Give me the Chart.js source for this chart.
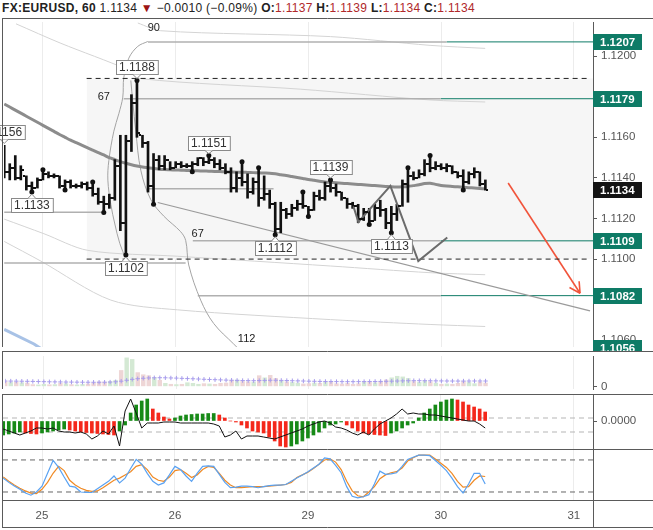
<!DOCTYPE html>
<html>
<head>
<meta charset="utf-8">
<script src="https://cdn.jsdelivr.net/npm/chart.js@4.4.1/dist/chart.umd.min.js"></script>
<style>
  html, body { margin: 0; padding: 0; background: #fff; }
  body { width: 653px; height: 530px; position: relative; overflow: hidden; font-family: "Liberation Sans", Arial, sans-serif; }
  #head { position: absolute; left: 2px; top: 0; height: 18px; line-height: 17px; font-size: 12px; letter-spacing: 0.3px; color: #222; white-space: nowrap; }
  .r { color: #b0282a; }
  .tri { color: #9c1414; font-size: 12px; }
  canvas { position: absolute; left: 0; }
</style>
</head>
<body>
<div id="head"><b>FX:EURUSD, 60</b> 1.1134 <span class="tri">&#9660;</span> &minus;0.0010 (&minus;0.09%) <b>O:</b><span class="r">1.1137</span> <b>H:</b><span class="r">1.1139</span> <b>L:</b><span class="r">1.1134</span> <b>C:</b><span class="r">1.1134</span></div>
<canvas id="main" width="653" height="333" style="top:18px"></canvas>
<canvas id="vol" width="653" height="43" style="top:351px"></canvas>
<canvas id="macd" width="653" height="55" style="top:394px"></canvas>
<canvas id="stoch" width="653" height="80" style="top:449px"></canvas>
<script>
// hourly bars, index 0 = first bar on screen
const dayTicks = [7, 31, 55, 79, 103];
const dayLabels = ['25', '26', '29', '30', '31'];
const priceTicks = [1.1060, 1.1080, 1.1100, 1.1120, 1.1140, 1.1160, 1.1180, 1.1200];

const opens = [
  1.1152, 1.1143, 1.1145, 1.1140, 1.1141, 1.1136, 1.1135, 1.1139, 1.1142, 1.1141,
  1.1141, 1.1136, 1.1138, 1.1136, 1.1136, 1.1137, 1.1135, 1.1132, 1.1128, 1.1127,
  1.1130, 1.1146, 1.1118, 1.1158, 1.1177, 1.1161, 1.1157, 1.1136, 1.1149, 1.1146,
  1.1149, 1.1145, 1.1147, 1.1146, 1.1146, 1.1147, 1.1150, 1.1148, 1.1149, 1.1147,
  1.1145, 1.1143, 1.1135, 1.1140, 1.1138, 1.1133, 1.1138, 1.1130, 1.1132, 1.1127,
  1.1115, 1.1124, 1.1122, 1.1125, 1.1127, 1.1126, 1.1124, 1.1131, 1.1130, 1.1136,
  1.1135, 1.1133, 1.1130, 1.1127, 1.1126, 1.1120, 1.1123, 1.1119, 1.1125, 1.1124,
  1.1118, 1.1122, 1.1126, 1.1137, 1.1141, 1.1140, 1.1142, 1.1147, 1.1145, 1.1146,
  1.1145, 1.1146, 1.1143, 1.1141, 1.1138, 1.1142, 1.1143, 1.1137
];
const highs = [
  1.1156, 1.1147, 1.1151, 1.1146, 1.1141, 1.1138, 1.1140, 1.1144, 1.1143, 1.1142,
  1.1141, 1.1139, 1.1139, 1.1137, 1.1138, 1.1138, 1.1138, 1.1135, 1.1131, 1.1132,
  1.1149, 1.1161, 1.1161, 1.1181, 1.1188, 1.1161, 1.1158, 1.1152, 1.1151, 1.1151,
  1.1148, 1.1148, 1.1148, 1.1147, 1.1148, 1.1150, 1.1150, 1.1151, 1.1150, 1.1149,
  1.1147, 1.1145, 1.1143, 1.1148, 1.1142, 1.1140, 1.1145, 1.1141, 1.1134, 1.1128,
  1.1128, 1.1125, 1.1127, 1.1129, 1.1133, 1.1126, 1.1133, 1.1134, 1.1138, 1.1139,
  1.1137, 1.1133, 1.1130, 1.1128, 1.1127, 1.1125, 1.1125, 1.1127, 1.1129, 1.1125,
  1.1126, 1.1127, 1.1139, 1.1145, 1.1143, 1.1144, 1.1149, 1.1151, 1.1148, 1.1147,
  1.1147, 1.1146, 1.1143, 1.1144, 1.1143, 1.1145, 1.1143, 1.1139
];
const lows = [
  1.1140, 1.1139, 1.1139, 1.1139, 1.1134, 1.1133, 1.1135, 1.1139, 1.1140, 1.1140,
  1.1135, 1.1134, 1.1135, 1.1135, 1.1135, 1.1134, 1.1131, 1.1127, 1.1123, 1.1125,
  1.1129, 1.1114, 1.1102, 1.1153, 1.1160, 1.1155, 1.1133, 1.1127, 1.1144, 1.1144,
  1.1144, 1.1145, 1.1145, 1.1145, 1.1143, 1.1146, 1.1146, 1.1147, 1.1145, 1.1144,
  1.1142, 1.1133, 1.1133, 1.1136, 1.1130, 1.1132, 1.1126, 1.1129, 1.1125, 1.1112,
  1.1113, 1.1120, 1.1121, 1.1124, 1.1125, 1.1121, 1.1124, 1.1129, 1.1129, 1.1133,
  1.1131, 1.1129, 1.1125, 1.1125, 1.1118, 1.1119, 1.1117, 1.1119, 1.1121, 1.1115,
  1.1113, 1.1119, 1.1126, 1.1128, 1.1139, 1.1140, 1.1141, 1.1143, 1.1144, 1.1144,
  1.1143, 1.1142, 1.1140, 1.1134, 1.1137, 1.1140, 1.1136, 1.1134
];
const closes = [
  1.1143, 1.1145, 1.1140, 1.1144, 1.1136, 1.1135, 1.1139, 1.1142, 1.1141, 1.1141,
  1.1136, 1.1138, 1.1136, 1.1136, 1.1137, 1.1135, 1.1132, 1.1128, 1.1127, 1.1130,
  1.1146, 1.1118, 1.1158, 1.1177, 1.1162, 1.1157, 1.1136, 1.1149, 1.1146, 1.1149,
  1.1145, 1.1147, 1.1146, 1.1146, 1.1147, 1.1150, 1.1148, 1.1149, 1.1147, 1.1145,
  1.1143, 1.1135, 1.1140, 1.1138, 1.1133, 1.1138, 1.1130, 1.1132, 1.1127, 1.1115,
  1.1124, 1.1122, 1.1125, 1.1127, 1.1126, 1.1124, 1.1131, 1.1130, 1.1136, 1.1135,
  1.1133, 1.1130, 1.1127, 1.1126, 1.1120, 1.1123, 1.1119, 1.1125, 1.1124, 1.1118,
  1.1122, 1.1126, 1.1137, 1.1141, 1.1140, 1.1142, 1.1147, 1.1145, 1.1146, 1.1145,
  1.1146, 1.1143, 1.1141, 1.1138, 1.1142, 1.1143, 1.1137, 1.1134
];
const movingAvg = [
  1.11764, 1.11749, 1.11734, 1.11719, 1.11704, 1.11689, 1.11674, 1.11659, 1.11644, 1.11629,
  1.11614, 1.11600, 1.11586, 1.11574, 1.11562, 1.11549, 1.11537, 1.11525, 1.11513, 1.11500,
  1.11490, 1.11480, 1.11472, 1.11465, 1.11459, 1.11454, 1.11450, 1.11446, 1.11443, 1.11441,
  1.11440, 1.11439, 1.11438, 1.11437, 1.11436, 1.11435, 1.11434, 1.11433, 1.11432, 1.11431,
  1.11430, 1.11429, 1.11428, 1.11428, 1.11427, 1.11426, 1.11425, 1.11424, 1.11423, 1.11420,
  1.11416, 1.11412, 1.11407, 1.11402, 1.11397, 1.11392, 1.11388, 1.11384, 1.11380, 1.11378,
  1.11376, 1.11374, 1.11372, 1.11370, 1.11368, 1.11366, 1.11364, 1.11362, 1.11360, 1.11358,
  1.11356, 1.11355, 1.11356, 1.11358, 1.11362, 1.11366, 1.11372, 1.11374, 1.11368, 1.11363,
  1.11360, 1.11358, 1.11356, 1.11354, 1.11352, 1.11350, 1.11348, 1.11346
];
const volumes = [
  175, 150, 160, 140, 130, 80, 70, 90, 75, 80,
  120, 110, 80, 70, 90, 100, 130, 170, 160, 180,
  220, 540, 950, 900, 470, 400, 370, 300, 220, 120,
  90, 80, 90, 140, 120, 90, 110, 100, 90, 120,
  130, 220, 230, 180, 170, 160, 370, 300, 380, 280,
  200, 170, 150, 130, 100, 110, 130, 120, 160, 150,
  110, 100, 120, 90, 110, 160, 150, 140, 170, 230,
  300, 350, 330, 280, 180, 150, 200, 170, 130, 90,
  100, 90, 120, 180, 150, 110, 160, 130
];
const volumeAvg = [
  185, 183, 181, 178, 175, 172, 168, 164, 160, 157,
  155, 152, 150, 148, 146, 145, 144, 144, 146, 150,
  160, 180, 210, 240, 260, 275, 285, 290, 292, 290,
  285, 280, 272, 265, 258, 250, 242, 235, 228, 222,
  215, 210, 205, 200, 198, 196, 200, 205, 210, 210,
  205, 200, 195, 190, 185, 180, 176, 172, 170, 168,
  166, 165, 164, 164, 165, 166, 168, 170, 172, 175,
  180, 185, 190, 194, 196, 196, 195, 193, 190, 188,
  186, 185, 184, 184, 185, 186, 186, 185
];
// MACD in units of 1e-5
const macdHist = [
  -14, -13, -12, -11, -12, -12.5, -13, -12, -11, -10,
  -9, -8, -9, -10, -11, -11.5, -12, -12.5, -13, -13.5,
  -14, -10, -4, 8, 16, 20, 22, 12, 8, 4,
  2, 3, 5, 6, 6.5, 7, 7, 7.5, 7.5, 6,
  3, 0, -1, -4, -7, -10, -11, -12, -16, -20,
  -25, -26, -25, -23, -20, -17, -14, -11, -7, -4,
  -3, -1, -4, -7, -10, -12, -13, -13.5, -14, -14.5,
  -12, -10, -7, -4, -2, 3, 8, 12, 16, 19,
  21, 22, 21, 19, 16, 14, 12, 9
];
const macdLine = [
  -8, -10, -12, -14, -12, -10, -7, -7, -8, -7,
  -10, -11, -11, -12, -11, -13, -18, -15, -10, -13,
  -5, -25, 10, 22, 8, -7, -2, -2, -2, -1,
  -1, -1, -2, -2, -2, -2, -2, -2, -3, -5,
  -16, -14, -10, -18, -15, -15, -15, -16, -17, -18,
  -16, -14, -12, -10, -8, -5, -3, -1, 0, -2,
  -6, -7, -9, -12, -14, -11, -14, -8, -3, 0,
  3, 7, 12, 7, 8, 7, 7, 6, 6, 5,
  4, 3, 2, 1, 0, 0, -3, -7
];
const macdLevels = [3, -11];
const stochK = [
  46, 38, 31, 25, 18, 14, 20, 31, 55, 79,
  66, 48, 31, 29, 20, 19, 19, 26, 33, 40,
  50, 37, 46, 64, 81, 72, 55, 40, 33, 37,
  52, 68, 62, 50, 40, 55, 68, 69, 68, 53,
  38, 28, 29, 31, 31, 30, 28, 30, 32, 33,
  33, 34, 40, 46, 52, 58, 65, 72, 84, 82,
  70, 56, 30, 12, 9, 11, 15, 35, 59, 53,
  54, 56, 68, 81, 85, 89, 89, 88, 79, 70,
  60, 46, 30, 18, 35, 55, 55, 35
];
const stochD = [
  48, 40, 33, 27, 22, 18, 17, 25, 38, 55,
  68, 60, 42, 33, 27, 23, 21, 22, 28, 35,
  42, 46, 52, 58, 68, 71, 62, 48, 42, 40,
  48, 60, 62, 55, 47, 52, 62, 68, 66, 55,
  42, 33, 28, 28, 29, 30, 30, 30, 31, 32,
  33, 34, 38, 47, 52, 57, 64, 72, 80, 82,
  76, 62, 40, 22, 13, 11, 20, 30, 45, 52,
  56, 58, 65, 78, 84, 89, 89, 89, 82, 74,
  66, 55, 40, 29, 30, 42, 50, 49
];
const stochLevels = [80, 20];

// drawings on the price pane, as [bar index, price]
const pivotHighs = [7, 16, 24, 37, 43, 46, 54, 59, 73, 77];
const pivotLows = [5, 11, 18, 22, 27, 34, 49, 55, 66, 70, 83];
const pivotTags = [[0, 'H'], [5, 'L'], [22, 'L'], [24, 'H'], [37, 'H'], [49, 'L'], [59, 'H'], [70, 'L']];
const rangeBox = { from: 14.9, to: 105.4, top: 1.1189, bottom: 1.1100 };
const greyLevels = [
  [1.1207, 26.0, 80.0], [1.1179, 21.6, 78.9], [1.11346, 26.0, 48.7], [1.11231, 0, 18],
  [1.10981, 0, 32.8], [1.1109, 34.1, 78.9], [1.1082, 35.0, 78.9]
];
const tealLevels = [[1.1207, 80.0], [1.1179, 78.9], [1.1109, 78.9], [1.1082, 78.9]];
const axisTags = [1.1207, 1.1179, 1.1109, 1.1082, 1.1056];
const bandUpper1 = [[24.15, 1.12163], [28.3, 1.12125], [59.0, 1.12096], [77.0, 1.12053], [86.97, 1.12038]];
const bandUpper2 = [[2.13, 1.12159], [10.25, 1.12063], [22.35, 1.11933], [24.7, 1.11889], [53.6, 1.11837], [77.0, 1.11784], [86.97, 1.11774]];
const bandLower1 = [[0, 1.11197], [7.18, 1.11125], [15.13, 1.11043], [31.37, 1.11014], [59.0, 1.10966], [77.0, 1.10933], [86.97, 1.10923]];
const bandLower2 = [[0, 1.11087], [6.64, 1.10990], [19.28, 1.10798], [31.37, 1.10750], [59.0, 1.10702], [77.0, 1.10678], [86.97, 1.10668]];
const blueCurve = [[0, 1.10654], [5.38, 1.10582], [7.55, 1.10543]];
const arcA = [[25.96, 1.12072], [24.15, 1.12048], [22.53, 1.11990], [21.62, 1.11894], [21.44, 1.11798], [20.72, 1.11716],
  [19.82, 1.11630], [18.92, 1.11486], [18.74, 1.11389], [19.28, 1.11269], [20.0, 1.11173], [20.9, 1.11077], [21.99, 1.11000]];
const arcB = [[22.89, 1.11880], [23.25, 1.11774], [23.79, 1.11630], [24.69, 1.11438], [26.5, 1.11293], [28.84, 1.11212],
  [31.9, 1.11135], [32.82, 1.11091], [33.36, 1.10971], [35.52, 1.10798], [37.87, 1.10683], [41.48, 1.10582], [42.74, 1.10548]];
const trendLine = [[27.76, 1.11279], [105.92, 1.10745]];
const zigzag = [[63.14, 1.11260], [64.04, 1.11183], [69.82, 1.11361], [74.87, 1.10990], [80.11, 1.11106]];
const arrowLine = [[91.12, 1.11375], [104.12, 1.10832]];
const notes = [['90', 27.04, 1.12137], ['67', 18.01, 1.11798], ['67', 34.98, 1.11125], ['112', 43.83, 1.10608]];

const X_MIN = -0.04, X_MAX = 106.46;
const FONT = 'Liberation Sans';
Chart.defaults.font.family = FONT;
Chart.defaults.font.size = 11.5;
Chart.defaults.color = '#555';

const toXY = arr => arr.map(([x, y]) => ({ x, y }));
const seg = (x0, x1, v) => [{ x: x0, y: v }, { x: x1, y: v }];

function line(data, color, width, extra) {
  return Object.assign({
    type: 'line', data, borderColor: color, borderWidth: width,
    pointRadius: 0, fill: false, tension: 0, order: 10
  }, extra || {});
}

function xAxis(showLabels) {
  return {
    type: 'linear', min: X_MIN, max: X_MAX, offset: false,
    afterBuildTicks: s => { s.ticks = dayTicks.map(v => ({ value: v })); },
    ticks: {
      display: showLabels, autoSkip: false, maxRotation: 0, padding: 9,
      callback: v => dayLabels[dayTicks.indexOf(v)] || ''
    },
    grid: { color: '#ececec', drawTicks: false, offset: false },
    border: { display: showLabels, color: '#5a5a5a' },
    afterFit: s => { s.height = showLabels ? 29 : 0; s.paddingLeft = 0; s.paddingRight = 0; }
  };
}

function yAxis(min, max, ticks, fmt) {
  return {
    position: 'right', min, max,
    afterBuildTicks: s => { s.ticks = ticks.map(v => ({ value: v })); },
    ticks: { callback: fmt, padding: 4 },
    grid: { drawOnChartArea: false, drawTicks: true, tickLength: 4, color: '#5a5a5a' },
    border: { color: '#5a5a5a' },
    afterFit: s => { s.width = 60; s.paddingTop = 0; s.paddingBottom = 0; }
  };
}

const frame = {
  id: 'frame',
  afterDraw(chart, args, opts) {
    const { ctx, chartArea: a, width, height } = chart;
    ctx.save();
    ctx.strokeStyle = '#5a5a5a';
    ctx.lineWidth = 1;
    ctx.beginPath();
    ctx.moveTo(2, 0.5); ctx.lineTo(width, 0.5);
    ctx.moveTo(2.5, 0); ctx.lineTo(2.5, opts.last ? height - 1 : a.bottom);
    if (opts.last) {
      ctx.moveTo(2, a.bottom + 0.5); ctx.lineTo(width, a.bottom + 0.5);
      ctx.moveTo(2, height - 1.5); ctx.lineTo(width, height - 1.5);
      ctx.moveTo(a.right + 0.5, a.bottom); ctx.lineTo(a.right + 0.5, height - 1);
    }
    ctx.stroke();
    ctx.restore();
  }
};

function baseOptions(x, y, last) {
  return {
    responsive: false, animation: false, events: [],
    layout: { padding: { left: 3, right: 0, top: 0, bottom: 0 } },
    scales: { x, y },
    plugins: { legend: { display: false }, tooltip: { enabled: false }, frame: { last } }
  };
}

// open / close ticks of the OHLC bars
const ohlcTicks = {
  id: 'ohlcTicks',
  afterDatasetsDraw(chart) {
    const { ctx, chartArea: a } = chart;
    const xs = chart.scales.x, ys = chart.scales.y;
    ctx.save();
    ctx.beginPath(); ctx.rect(a.left, a.top, a.width, a.height); ctx.clip();
    ctx.fillStyle = '#111';
    opens.forEach((o, i) => {
      const px = Math.round(xs.getPixelForValue(i));
      ctx.fillRect(px - 3, Math.round(ys.getPixelForValue(o)) - 1, 2, 2);
      ctx.fillRect(px + 1, Math.round(ys.getPixelForValue(closes[i])) - 1, 2, 2);
    });
    ctx.restore();
  }
};

const annotations = {
  id: 'annotations',
  afterDatasetsDraw(chart) {
    const { ctx, chartArea: a } = chart;
    const xs = chart.scales.x, ys = chart.scales.y;
    const P = (i, p) => ({ x: xs.getPixelForValue(i), y: ys.getPixelForValue(p) });
    ctx.save();

    // arrow head
    const s = P(...arrowLine[0]), e = P(...arrowLine[1]);
    const ang = Math.atan2(e.y - s.y, e.x - s.x);
    ctx.strokeStyle = '#f1543b'; ctx.lineWidth = 1.6;
    ctx.beginPath();
    [-0.5, 0.5].forEach(d => {
      ctx.moveTo(e.x, e.y);
      ctx.lineTo(e.x - 12 * Math.cos(ang + d), e.y - 12 * Math.sin(ang + d));
    });
    ctx.stroke();

    // small text notes
    ctx.fillStyle = '#222'; ctx.font = '11px ' + FONT;
    ctx.textAlign = 'center'; ctx.textBaseline = 'middle';
    notes.forEach(([t, i, p]) => { const q = P(i, p); ctx.fillText(t, q.x, q.y); });

    // pivot price tags
    ctx.font = '12px ' + FONT;
    pivotTags.forEach(([i, side]) => {
      const v = side === 'H' ? highs[i] : lows[i];
      const q = P(i, v);
      const txt = v.toFixed(4);
      const w = ctx.measureText(txt).width + 6, h = 14;
      const top = side === 'H' ? q.y - 6 - h : q.y + 6;
      const bx = Math.round(q.x - w / 2) + 0.5, by = Math.round(top) + 0.5;
      ctx.fillStyle = '#fff'; ctx.strokeStyle = '#8a8a8a'; ctx.lineWidth = 1;
      ctx.fillRect(bx, by, w, h); ctx.strokeRect(bx, by, w, h);
      ctx.beginPath();
      if (side === 'H') { ctx.moveTo(q.x - 4, by + h); ctx.lineTo(q.x, q.y - 2); ctx.lineTo(q.x + 4, by + h); }
      else { ctx.moveTo(q.x - 4, by); ctx.lineTo(q.x, q.y + 2); ctx.lineTo(q.x + 4, by); }
      ctx.fill(); ctx.stroke();
      ctx.fillStyle = '#333';
      ctx.fillText(txt, q.x, by + h / 2 + 0.5);
    });

    // price tags on the right axis
    const tag = (price, bg) => {
      const y = Math.round(ys.getPixelForValue(price));
      ctx.fillStyle = bg; ctx.fillRect(a.right, y - 8, 49, 16);
      ctx.fillStyle = '#fff'; ctx.font = 'bold 11.5px ' + FONT;
      ctx.textAlign = 'left'; ctx.textBaseline = 'middle';
      ctx.fillText(price.toFixed(4), a.right + 7, y + 0.5);
    };
    axisTags.forEach(p => tag(p, '#0e7b66'));
    tag(closes[closes.length - 1], '#131313');
    ctx.restore();
  }
};

// ---------- price pane ----------
const lightGrey = '#d4d4d4', midGrey = '#b0b0b0';
const mainDatasets = [
  line(seg(rangeBox.from, X_MAX, rangeBox.top), 'rgba(0,0,0,0)', 0,
    { fill: { value: rangeBox.bottom }, backgroundColor: '#f6f6f6', order: 30 }),
  line(toXY(bandUpper1), lightGrey, 1, { tension: 0.3, order: 20 }),
  line(toXY(bandUpper2), lightGrey, 1, { tension: 0.3, order: 20 }),
  line(toXY(bandLower1), lightGrey, 1, { tension: 0.3, order: 20 }),
  line(toXY(bandLower2), lightGrey, 1, { tension: 0.3, order: 20 }),
  line(toXY(blueCurve), '#a8c2e6', 3, { order: 20 }),
  ...greyLevels.map(([p, a, b]) => line(seg(a, b, p), midGrey, 1.5, { order: 15 })),
  ...tealLevels.map(([p, a]) => line(seg(a, X_MAX, p), '#0e7b66', 1, { order: 15 })),
  line(toXY(arcA), '#a4a4a4', 1, { tension: 0.35, order: 14 }),
  line(toXY(arcB), '#a4a4a4', 1, { tension: 0.35, order: 14 }),
  line(toXY(trendLine), '#9a9a9a', 1.2, { order: 14 }),
  line(seg(rangeBox.from, rangeBox.to, rangeBox.top), '#222', 1, { borderDash: [5, 4], order: 12 }),
  line(seg(rangeBox.from, rangeBox.to, rangeBox.bottom), '#222', 1, { borderDash: [5, 4], order: 12 }),
  line(toXY(arrowLine), '#f1543b', 1.6, { order: 12 }),
  line(movingAvg.map((v, i) => ({ x: i, y: v })), '#8c8c8c', 3, { tension: 0.3, order: 6 }),
  {
    type: 'bar', order: 4, grouped: false, barThickness: 2, backgroundColor: '#111',
    data: lows.map((l, i) => ({ x: i, y: [l, highs[i]] }))
  },
  line(toXY(zigzag), '#6b6b6b', 2, { order: 3 }),
  line([...pivotHighs.map(i => ({ x: i, y: highs[i] })), ...pivotLows.map(i => ({ x: i, y: lows[i] }))],
    '#111', 0, { showLine: false, pointRadius: 2.5, pointBackgroundColor: '#111', pointBorderWidth: 0, order: 1 })
];
new Chart(document.getElementById('main'), {
  type: 'line',
  data: { datasets: mainDatasets },
  options: baseOptions(xAxis(false), yAxis(1.10567, 1.12168, priceTicks, v => v.toFixed(4)), false),
  plugins: [frame, ohlcTicks, annotations]
});

// ---------- volume pane ----------
new Chart(document.getElementById('vol'), {
  type: 'bar',
  data: {
    datasets: [
      {
        type: 'bar', order: 2, categoryPercentage: 1, barPercentage: 0.8,
        data: volumes.map((v, i) => ({ x: i, y: v })),
        backgroundColor: volumes.map((v, i) => closes[i] >= opens[i] ? '#d4e9d4' : '#eed6d6')
      },
      line(volumeAvg.map((v, i) => ({ x: i, y: v })), '#a79cec', 1,
        { showLine: false, pointStyle: 'cross', pointRadius: 2.2, pointBorderColor: '#a79cec', pointBorderWidth: 1, order: 1 })
    ]
  },
  options: baseOptions(xAxis(false), yAxis(-75, 1000, [0], v => String(v)), false),
  plugins: [frame]
});

// ---------- MACD pane ----------
new Chart(document.getElementById('macd'), {
  type: 'bar',
  data: {
    datasets: [
      {
        type: 'bar', order: 3, barThickness: 3,
        data: macdHist.map((v, i) => ({ x: i, y: v })),
        backgroundColor: macdHist.map((v, i) => (i === 0 || v >= macdHist[i - 1]) ? '#178a17' : '#f4281b')
      },
      ...macdLevels.map(v => line(seg(X_MIN, X_MAX, v), '#b5b5b5', 1, { borderDash: [5, 4], order: 5 })),
      line(macdLine.map((v, i) => ({ x: i, y: v })), '#111', 1, { order: 1 })
    ]
  },
  options: baseOptions(xAxis(false), yAxis(-28, 27, [0], () => '0.0000'), false),
  plugins: [frame]
});

// ---------- Stochastic pane ----------
new Chart(document.getElementById('stoch'), {
  type: 'line',
  data: {
    datasets: [
      ...stochLevels.map(v => line(seg(X_MIN, X_MAX, v), '#666', 1, { borderDash: [5, 4], order: 5 })),
      line(stochD.map((v, i) => ({ x: i, y: v })), '#f08a24', 1.2, { order: 2 }),
      line(stochK.map((v, i) => ({ x: i, y: v })), '#5aa2f2', 1.2, { order: 1 })
    ]
  },
  options: baseOptions(xAxis(true), yAxis(5, 100.5, [], v => ''), true),
  plugins: [frame]
});
</script>
</body>
</html>
